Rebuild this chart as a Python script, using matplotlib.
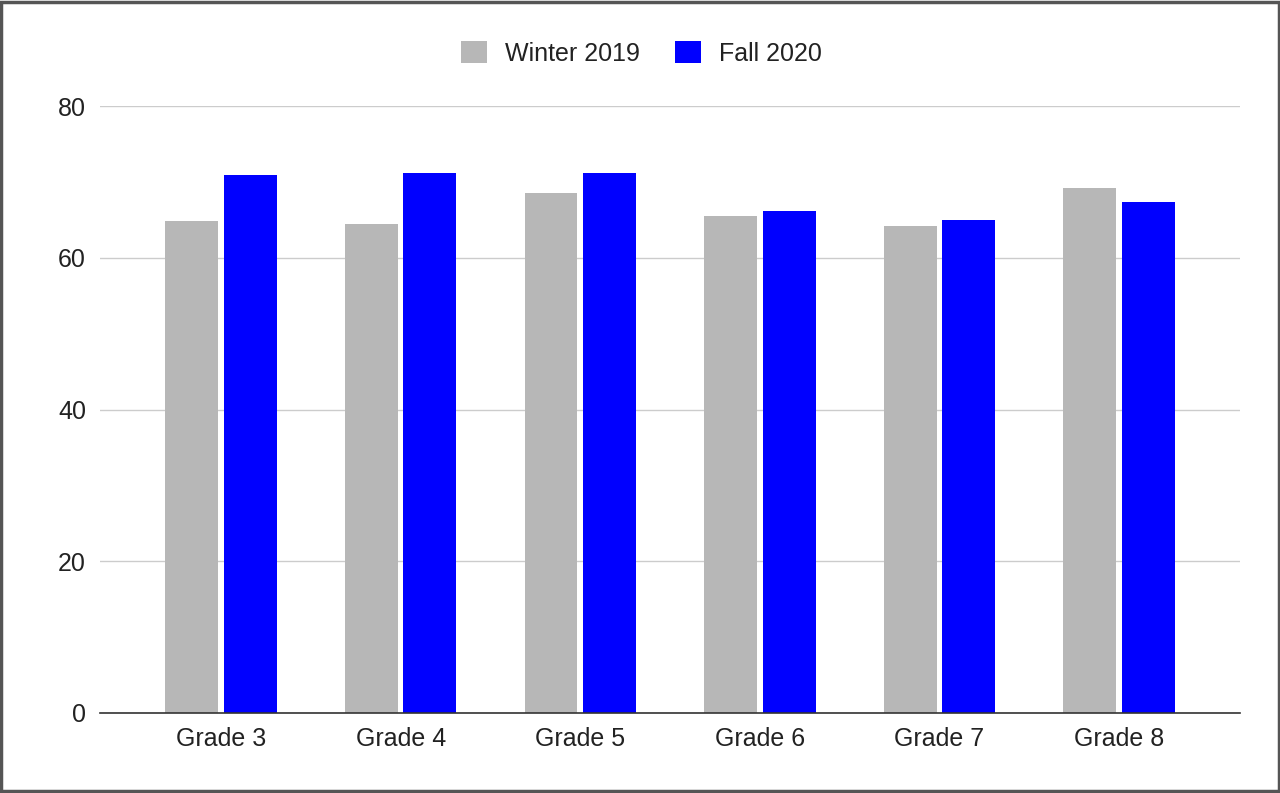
import numpy as np
import matplotlib.pyplot as plt
from matplotlib.patches import Rectangle

plt.rcParams['font.family'] = ['Liberation Sans', 'DejaVu Sans']

# Data
grades = ['Grade 3', 'Grade 4', 'Grade 5', 'Grade 6', 'Grade 7', 'Grade 8']
winter_2019 = [64.8, 64.4, 68.6, 65.5, 64.2, 69.2]
fall_2020 = [70.9, 71.2, 71.2, 66.1, 65.0, 67.3]

fig = plt.figure(figsize=(12.8, 7.93), dpi=100)
ax = fig.add_axes([0.078, 0.1009, 0.891, 0.7654])

x = np.arange(len(grades))
w = 0.295
off = 0.163
ax.bar(x - off, winter_2019, w, color='#b7b7b7', label='Winter 2019', zorder=3)
ax.bar(x + off, fall_2020, w, color='#0000ff', label='Fall 2020', zorder=3)

ax.set_xlim(-0.675, 5.675)
ax.set_ylim(0, 80)
ax.set_yticks([0, 20, 40, 60, 80])
ax.set_xticks(x)
ax.set_xticklabels(grades)
ax.tick_params(axis='both', length=0, labelsize=18, colors='#222222')
ax.tick_params(axis='y', pad=10)
ax.tick_params(axis='x', pad=10)
ax.grid(axis='y', color='#cccccc', linewidth=1, zorder=0)
for s in ['top', 'right', 'left']:
    ax.spines[s].set_visible(False)
ax.spines['bottom'].set_color('#333333')
ax.spines['bottom'].set_linewidth(1.2)
ax.spines['bottom'].set_zorder(4)

leg = fig.legend(loc='center', bbox_to_anchor=(0.501, 0.933), ncol=2, frameon=False,
                 fontsize=18, handlelength=1.04, handleheight=1.0, columnspacing=1.4,
                 handletextpad=0.72)
for t in leg.get_texts():
    t.set_color('#222222')

# outer frame
fig.patches.append(Rectangle((0.001, 0.002), 0.998, 0.996, transform=fig.transFigure,
                             fill=False, edgecolor='#555555', linewidth=2.5))

fig.savefig('out.png', dpi=100)
